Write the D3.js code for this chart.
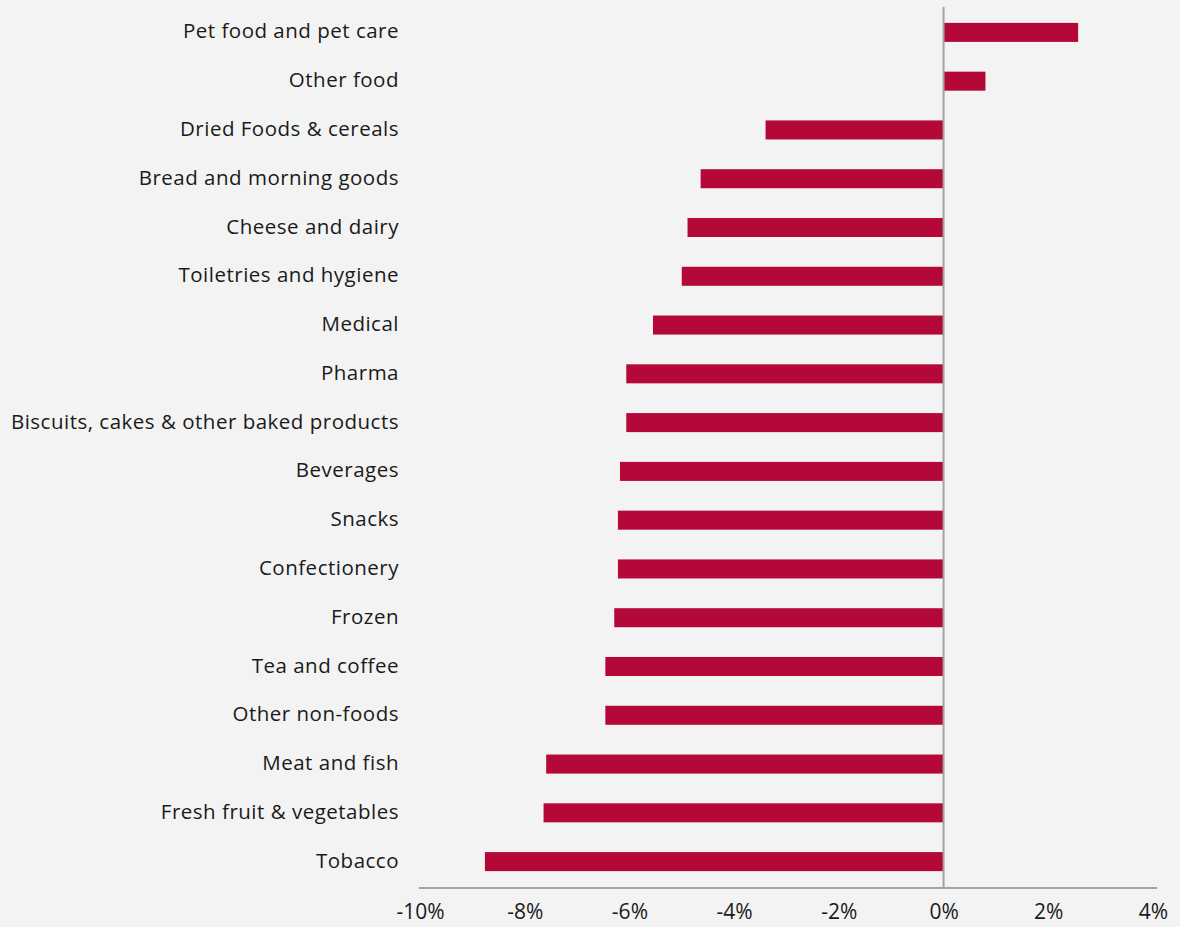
<!DOCTYPE html>
<html>
<head>
<meta charset="utf-8">
<script src="https://cdn.jsdelivr.net/npm/d3@7"></script>
<style>
  html, body { margin: 0; padding: 0; background: #f3f3f3; }
  svg { display: block; }
  text { font-family: "Open Sans", "Noto Sans", sans-serif; fill: #1a1a1a; }
</style>
</head>
<body>
<script>
const categories = [
  "Pet food and pet care", "Other food", "Dried Foods & cereals", "Bread and morning goods",
  "Cheese and dairy", "Toiletries and hygiene", "Medical", "Pharma",
  "Biscuits, cakes & other baked products", "Beverages", "Snacks", "Confectionery",
  "Frozen", "Tea and coffee", "Other non-foods", "Meat and fish",
  "Fresh fruit & vegetables", "Tobacco"
];
const values = [
  2.57, 0.8, -3.4, -4.64,
  -4.89, -5.0, -5.55, -6.06,
  -6.06, -6.18, -6.22, -6.22,
  -6.29, -6.46, -6.46, -7.59,
  -7.64, -8.76
];
const xTicks = [-10, -8, -6, -4, -2, 0, 2, 4];

const W = 1180, H = 927;
const FONT = '"Open Sans", "Noto Sans", sans-serif';
const svg = d3.select("body").append("svg").attr("width", W).attr("height", H);

const x = d3.scaleLinear().domain([-10, 4]).range([420, 1153]);
const y = d3.scaleBand().domain(categories).range([8, 886]).paddingInner(0.61).paddingOuter(0.305);

// bars
svg.append("g").selectAll("rect").data(values).join("rect")
  .attr("x", d => x(Math.min(0, d)))
  .attr("width", d => Math.abs(x(d) - x(0)))
  .attr("y", (d, i) => y(categories[i]))
  .attr("height", y.bandwidth())
  .attr("fill", "#b30838");

// zero line
svg.append("line")
  .attr("x1", x(0)).attr("x2", x(0))
  .attr("y1", 7).attr("y2", 888)
  .attr("stroke", "#a3a3a3").attr("stroke-width", 2);

// bottom axis
const xAxis = d3.axisBottom(x).tickValues(xTicks).tickFormat(d => d + "%").tickSize(0).tickPadding(16);
const gx = svg.append("g").attr("transform", "translate(0,888)").call(xAxis);
gx.select(".domain").remove();
gx.append("line").attr("x1", 419).attr("x2", 1157).attr("y1", 0).attr("y2", 0)
  .attr("stroke", "#a3a3a3").attr("stroke-width", 2);
gx.selectAll(".tick text").attr("font-size", 21).attr("fill", "#1a1a1a")
  .style("font-family", FONT);

// category labels
const yAxis = d3.axisLeft(y).tickSize(0).tickPadding(0);
const gy = svg.append("g").attr("transform", "translate(399,-0.5)").call(yAxis);
gy.select(".domain").remove();
gy.selectAll("text").attr("font-size", 20.5).attr("fill", "#1a1a1a")
  .attr("letter-spacing", 0.5)
  .style("font-family", FONT);
</script>
</body>
</html>
